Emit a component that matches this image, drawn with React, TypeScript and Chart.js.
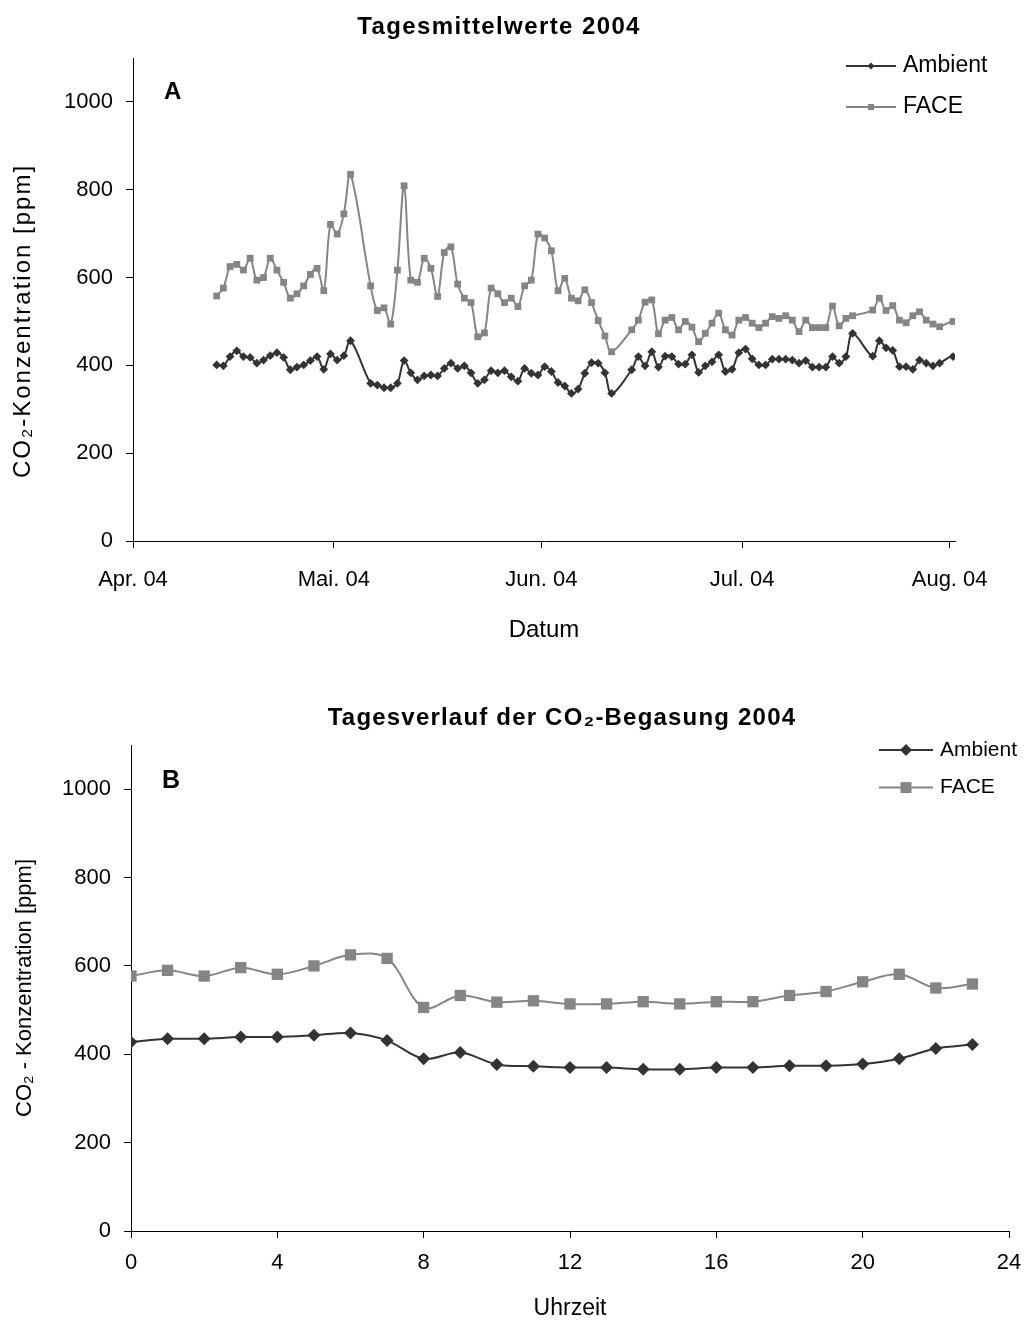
import React, { useEffect, useRef } from "react";
import { Chart, registerables } from "chart.js";

Chart.register(...registerables);

const FONT = '"Liberation Sans", Arial, Helvetica, sans-serif';

// ---------- Chart A: daily means 2004 (x = days since 1 April 2004) ----------
const monthTickDays = [0, 30, 61, 91, 122];
const monthTickLabels = ["Apr. 04", "Mai. 04", "Jun. 04", "Jul. 04", "Aug. 04"];

const dailyDays = [
  12, 13, 14, 15, 16, 17, 18, 19, 20, 21, 22, 23, 24, 25, 26, 27, 28, 29, 30, 31, 32,
  35, 36, 37, 38, 39, 40, 41, 42, 43, 44, 45, 46, 47, 48, 49, 50, 51, 52, 53, 54, 55,
  56, 57, 58, 59, 60, 61, 62, 63, 64, 65, 66, 67, 68, 69, 70, 71,
  74, 75, 76, 77, 78, 79, 80, 81, 82, 83, 84, 85, 86, 87, 88, 89, 90, 91, 92, 93, 94,
  95, 96, 97, 98, 99, 100, 101, 102, 103, 104, 105, 106, 107,
  110, 111, 112, 113, 114, 115, 116, 117, 118, 119, 120,
  122, 123,
];

const ambientDaily = [
  401, 399, 420, 433, 420, 418, 405, 412, 422, 429, 418, 390, 396, 401, 411, 420, 391, 426, 412, 422, 456,
  359, 355, 349, 349, 359, 411, 383, 367, 376, 378, 376, 393, 405, 393, 399, 383, 359, 367, 388, 383, 388,
  374, 364, 393, 382, 378, 397, 386, 361, 353, 336, 346, 382, 406, 405, 383, 336,
  390, 420, 399, 431, 396, 421, 420, 403, 403, 424, 384, 399, 408, 424, 386, 391, 429, 437, 415, 401, 401,
  414, 414, 414, 412, 405, 411, 396, 396, 396, 420, 405, 420, 473,
  421, 456, 440, 434, 397, 397, 391, 412, 405, 399, 405,
  420, 401,
];

const faceDaily = [
  558, 576, 625, 630, 617, 644, 594, 600, 644, 617, 589, 553, 563, 581, 607, 621, 570, 721, 699, 745, 835,
  581, 525, 531, 494, 617, 809, 594, 589, 644, 621, 557, 657, 670, 585, 553, 543, 465, 474, 576, 563, 543,
  553, 534, 581, 594, 699, 690, 661, 570, 598, 553, 547, 572, 543, 502, 467, 431,
  481, 503, 544, 549, 472, 503, 509, 481, 500, 487, 454, 473, 496, 519, 481, 469, 503, 509, 496, 486, 496,
  511, 507, 513, 503, 477, 503, 486, 486, 486, 535, 490, 507, 513,
  526, 553, 525, 536, 503, 497, 513, 522, 503, 494, 488,
  500, 481,
];

// ---------- Chart B: diurnal course 2004 ----------
const hours = [0, 1, 2, 3, 4, 5, 6, 7, 8, 9, 10, 11, 12, 13, 14, 15, 16, 17, 18, 19, 20, 21, 22, 23];
const ambientHourly = [428, 435, 435, 439, 439, 443, 448, 431, 390, 404, 377, 373, 370, 370, 366, 366, 370, 370, 374, 374, 378, 390, 413, 422];
const faceHourly = [577, 590, 577, 596, 581, 600, 625, 617, 506, 533, 518, 521, 514, 514, 519, 514, 519, 519, 533, 542, 564, 581, 550, 559];

const AMBIENT_COLOR = "#333333";
const FACE_COLOR = "#858585";

function withSpacing(ctx: any, spacing: number, fn: () => void) {
  const prev = ctx.letterSpacing;
  try {
    ctx.letterSpacing = `${spacing}px`;
  } catch (e) {}
  fn();
  try {
    ctx.letterSpacing = prev || "0px";
  } catch (e) {}
}

const overlayPlugin = {
  id: "overlay",
  afterDraw(chart: any, _args: any, opts: any) {
    const { ctx, chartArea } = chart;
    ctx.save();
    ctx.fillStyle = "#000";
    ctx.textBaseline = "middle";

    // main title
    ctx.textAlign = "center";
    ctx.font = `bold ${opts.titleSize}px ${FONT}`;
    withSpacing(ctx, opts.titleSpacing, () => ctx.fillText(opts.title, opts.titleX, opts.titleY));

    // optional manually drawn y-axis title
    if (opts.yTitle) {
      ctx.save();
      ctx.translate(opts.yTitleX, opts.yTitleY);
      ctx.rotate(-Math.PI / 2);
      ctx.font = `${opts.yTitleSize}px ${FONT}`;
      ctx.textAlign = "center";
      withSpacing(ctx, opts.yTitleSpacing, () => ctx.fillText(opts.yTitle, 0, 0));
      ctx.restore();
    }

    // panel letter
    ctx.textAlign = "left";
    ctx.font = `bold ${opts.letterSize}px ${FONT}`;
    ctx.fillText(opts.letter, chartArea.left + opts.letterDx, chartArea.top + opts.letterDy);

    // legend: line + marker + label
    chart.data.datasets.forEach((ds: any, i: number) => {
      const y = opts.legendY + i * opts.legendGap;
      const x0 = opts.legendX;
      ctx.strokeStyle = ds.borderColor;
      ctx.lineWidth = opts.legendLineWidth;
      ctx.beginPath();
      ctx.moveTo(x0, y);
      ctx.lineTo(x0 + opts.legendLen, y);
      ctx.stroke();
      const cx = x0 + opts.legendLen / 2;
      ctx.fillStyle = ds.pointBackgroundColor;
      ctx.beginPath();
      if (ds.pointStyle === "rectRot") {
        const r = opts.diamondR;
        ctx.moveTo(cx, y - r);
        ctx.lineTo(cx + r, y);
        ctx.lineTo(cx, y + r);
        ctx.lineTo(cx - r, y);
        ctx.closePath();
      } else {
        const s = opts.squareHalf;
        ctx.rect(cx - s, y - s, 2 * s, 2 * s);
      }
      ctx.fill();
      ctx.fillStyle = "#000";
      ctx.font = `${opts.legendSize}px ${FONT}`;
      ctx.fillText(ds.label, x0 + opts.legendLen + opts.textGap, y);
    });
    ctx.restore();
  },
};

function lineDataset(label: string, data: any[], color: string, style: string, radius: number) {
  return {
    label,
    data,
    borderColor: color,
    backgroundColor: color,
    pointBackgroundColor: color,
    pointBorderColor: color,
    pointBorderWidth: 0,
    pointStyle: style,
    pointRadius: radius,
    pointHoverRadius: radius,
    borderWidth: 2,
    tension: 0.35,
    fill: false,
    spanGaps: true,
  };
}

function axisCommon(tickSize: number) {
  return {
    grid: { drawOnChartArea: false, drawTicks: true, tickLength: 7, color: "#000", lineWidth: 1 },
    border: { display: true, color: "#000", width: 1 },
    ticks: { color: "#000", font: { family: FONT, size: tickSize } },
  };
}

const plainNumber = (v: any) => String(v);

export default function App() {
  const refA = useRef<HTMLCanvasElement | null>(null);
  const refB = useRef<HTMLCanvasElement | null>(null);

  useEffect(() => {
    Chart.defaults.font.family = FONT;
    Chart.defaults.color = "#000";

    const dailyAmbient = dailyDays.map((d, i) => ({ x: d + 0.5, y: ambientDaily[i] }));
    const dailyFace = dailyDays.map((d, i) => ({ x: d + 0.5, y: faceDaily[i] }));

    const ca = axisCommon(22);
    const chartA = new Chart(refA.current as HTMLCanvasElement, {
      type: "line",
      data: {
        datasets: [
          lineDataset("Ambient", dailyAmbient, AMBIENT_COLOR, "rectRot", 4.4) as any,
          lineDataset("FACE", dailyFace, FACE_COLOR, "rect", 4.8) as any,
        ],
      },
      options: {
        responsive: false,
        animation: false,
        events: [],
        layout: { padding: { left: 0, right: 69, top: 58, bottom: 0 } },
        plugins: {
          legend: { display: false },
          tooltip: { enabled: false },
          title: { display: false },
          overlay: {
            title: "Tagesmittelwerte 2004", titleSize: 24, titleSpacing: 1.4, titleX: 499, titleY: 27,
            yTitle: "CO₂-Konzentration [ppm]", yTitleSize: 24, yTitleSpacing: 2, yTitleX: 23, yTitleY: 321,
            letter: "A", letterSize: 24, letterDx: 31, letterDy: 34,
            legendX: 846, legendY: 66, legendGap: 41, legendLen: 50, textGap: 7,
            legendSize: 23, legendLineWidth: 2, diamondR: 3.5, squareHalf: 3,
          },
        } as any,
        scales: {
          x: {
            type: "linear",
            min: 0,
            max: 122.8,
            afterBuildTicks: (scale: any) => {
              scale.ticks = monthTickDays.map((v) => ({ value: v }));
            },
            afterFit: (scale: any) => {
              scale.height = 119;
              scale.paddingLeft = 0;
              scale.paddingRight = 0;
            },
            ...ca,
            ticks: {
              ...ca.ticks,
              autoSkip: false,
              maxRotation: 0,
              padding: 19,
              callback: (_v: any, i: number) => monthTickLabels[i],
            },
            title: {
              display: true,
              text: "Datum",
              color: "#000",
              font: { family: FONT, size: 24 },
              padding: { top: 0, bottom: 15 },
            },
          },
          y: {
            type: "linear",
            min: 0,
            max: 1100,
            afterFit: (scale: any) => {
              scale.width = 133;
              scale.paddingTop = 0;
              scale.paddingBottom = 0;
            },
            ...ca,
            ticks: { ...ca.ticks, stepSize: 200, includeBounds: false, padding: 13, callback: plainNumber },
            title: { display: false },
          },
        } as any,
      },
      plugins: [overlayPlugin as any],
    });

    const cb = axisCommon(22);
    const chartB = new Chart(refB.current as HTMLCanvasElement, {
      type: "line",
      data: {
        datasets: [
          lineDataset("Ambient", hours.map((h, i) => ({ x: h, y: ambientHourly[i] })), AMBIENT_COLOR, "rectRot", 6.5) as any,
          lineDataset("FACE", hours.map((h, i) => ({ x: h, y: faceHourly[i] })), FACE_COLOR, "rect", 8) as any,
        ],
      },
      options: {
        responsive: false,
        animation: false,
        events: [],
        layout: { padding: { left: 0, right: 15, top: 83, bottom: 0 } },
        plugins: {
          legend: { display: false },
          tooltip: { enabled: false },
          title: { display: false },
          overlay: {
            title: "Tagesverlauf der CO₂-Begasung 2004", titleSize: 24, titleSpacing: 1.2, titleX: 562, titleY: 56,
            letter: "B", letterSize: 25, letterDx: 31, letterDy: 36,
            legendX: 879, legendY: 88, legendGap: 37.6, legendLen: 54, textGap: 7,
            legendSize: 21, legendLineWidth: 2, diamondR: 6, squareHalf: 5.5,
          },
        } as any,
        scales: {
          x: {
            type: "linear",
            min: 0,
            max: 24,
            afterFit: (scale: any) => {
              scale.height = 91;
              scale.paddingLeft = 0;
              scale.paddingRight = 0;
            },
            ...cb,
            ticks: { ...cb.ticks, stepSize: 4, maxRotation: 0, padding: 12 },
            title: {
              display: true,
              text: "Uhrzeit",
              color: "#000",
              font: { family: FONT, size: 23 },
              padding: { top: 0, bottom: 0 },
            },
          },
          y: {
            type: "linear",
            min: 0,
            max: 1100,
            afterFit: (scale: any) => {
              scale.width = 131;
              scale.paddingTop = 0;
              scale.paddingBottom = 0;
            },
            ...cb,
            ticks: { ...cb.ticks, stepSize: 200, includeBounds: false, padding: 13, callback: plainNumber },
            title: {
              display: true,
              text: "CO₂ - Konzentration [ppm]",
              color: "#000",
              font: { family: FONT, size: 22 },
              padding: { top: 12, bottom: 0 },
            },
          },
        } as any,
      },
      plugins: [overlayPlugin as any],
    });

    return () => {
      chartA.destroy();
      chartB.destroy();
    };
  }, []);

  return (
    <div style={{ position: "absolute", left: 0, top: 0, width: 1024, height: 1322, background: "#fff" }}>
      <canvas ref={refA} width={1024} height={660} style={{ position: "absolute", left: 0, top: 0, width: 1024, height: 660 }} />
      <canvas ref={refB} width={1024} height={660} style={{ position: "absolute", left: 0, top: 662, width: 1024, height: 660 }} />
    </div>
  );
}
